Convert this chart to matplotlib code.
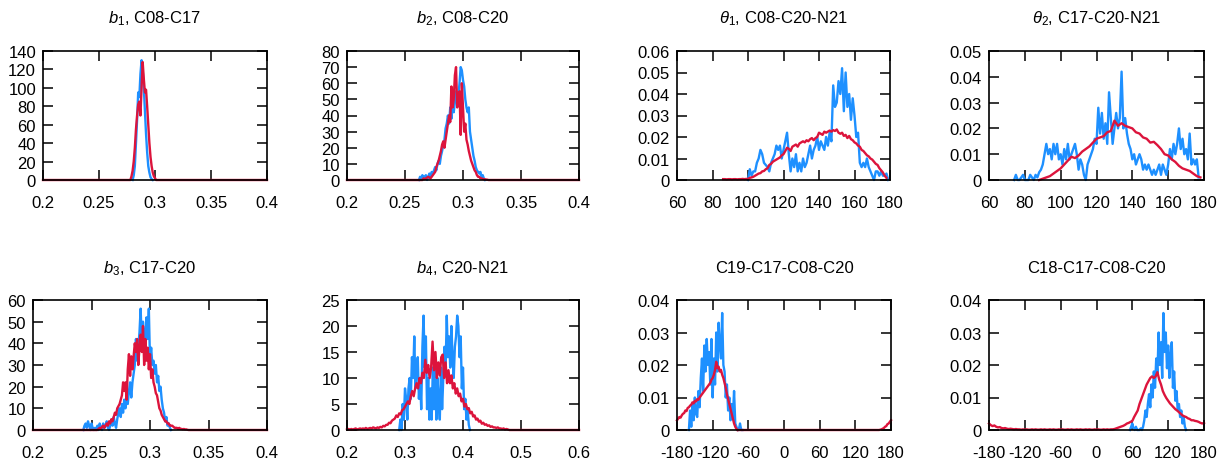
import numpy as np
import matplotlib
matplotlib.use("Agg")
import matplotlib.pyplot as plt

plt.rcParams['font.family'] = ['Liberation Sans', 'DejaVu Sans']
plt.rcParams['mathtext.fontset'] = 'custom'
plt.rcParams['mathtext.rm'] = 'Liberation Sans'
plt.rcParams['mathtext.it'] = 'Liberation Sans:italic'

BLUE = '#1e90ff'
RED = '#dc143c'

# ---------------- data ----------------
titles = [r'$b_1$, C08-C17', r'$b_2$, C08-C20', r'$\theta_1$, C08-C20-N21', r'$\theta_2$, C17-C20-N21',
          r'$b_3$, C17-C20', r'$b_4$, C20-N21', 'C19-C17-C08-C20', 'C18-C17-C08-C20']

xticks_bond = [0.2, 0.25, 0.3, 0.35, 0.4]
xticks_b4 = [0.2, 0.3, 0.4, 0.5, 0.6]
xticks_angle = [60, 80, 100, 120, 140, 160, 180]
xticks_dihedral = [-180, -120, -60, 0, 60, 120, 180]

yticks_b1 = [0, 20, 40, 60, 80, 100, 120, 140]
yticks_b2 = [0, 10, 20, 30, 40, 50, 60, 70, 80]
yticks_t1 = [0, 0.01, 0.02, 0.03, 0.04, 0.05, 0.06]
yticks_t2 = [0, 0.01, 0.02, 0.03, 0.04, 0.05]
yticks_b3 = [0, 10, 20, 30, 40, 50, 60]
yticks_b4 = [0, 5, 10, 15, 20, 25]
yticks_d = [0, 0.01, 0.02, 0.03, 0.04]

# b1 (bin width 0.001)
b1_blue_start, b1_blue = 0.280, [0, 5, 15, 40, 65, 95, 90, 115, 130, 120, 100, 75, 50, 30, 15, 8, 3, 1, 0]
b1_red_start, b1_red = 0.278, [0, 4, 10, 20, 35, 55, 70, 82, 85, 70, 100, 128, 110, 95, 98, 80, 60, 40,
                               25, 15, 8, 4, 2, 0]

# b2 (bin width 0.001)
b2_blue_start, b2_blue = 0.262, [0, 2, 1, 3, 1, 2, 3, 0, 2, 4, 2, 5, 4, 6, 8, 6, 10, 12, 10, 15, 18, 22,
                                 25, 32, 35, 40, 35, 45, 38, 50, 42, 48, 55, 48, 52, 60, 70, 68, 62, 58,
                                 50, 45, 42, 45, 30, 25, 20, 15, 12, 8, 6, 5, 4, 5, 2, 3, 1, 0]
b2_red_start, b2_red = 0.265, [0, 1, 0.5, 1, 1.5, 2, 1.5, 1, 2, 3, 4, 5, 8, 10, 12, 15, 18, 22, 24, 20,
                               25, 30, 35, 40, 36, 58, 45, 50, 65, 70, 45, 52, 55, 28, 60, 45, 30, 35,
                               25, 22, 18, 15, 12, 10, 8, 6, 5, 3, 2, 2, 1, 1, 0.7, 0.5, 0.4, 0.3, 0.2, 0]

# theta1 (bin width 1 degree)
t1_blue_start, t1_blue = 100, [0, 0.005, 0.002, 0.004, 0.004, 0.008, 0.010, 0.014, 0.012, 0.008, 0.007,
                               0.006, 0.004, 0.008, 0.010, 0.012, 0.016, 0.014, 0.016, 0.010, 0.014,
                               0.018, 0.022, 0.012, 0.004, 0.010, 0.006, 0.012, 0.004, 0.008, 0.004,
                               0.010, 0.006, 0.008, 0.012, 0.016, 0.010, 0.014, 0.016, 0.020, 0.014,
                               0.018, 0.016, 0.014, 0.020, 0.016, 0.022, 0.018, 0.044, 0.034, 0.036,
                               0.046, 0.040, 0.052, 0.032, 0.050, 0.034, 0.040, 0.028, 0.038, 0.030,
                               0.020, 0.022, 0.008, 0.006, 0.008, 0.006, 0.010, 0.006, 0.004, 0.002,
                               0.000, 0.004, 0.004, 0.002, 0.004, 0.002, 0.002, 0.003, 0.000]
t1_red_start, t1_red = 86, [0.0004, 0.0004, 0.0003, 0.0004, 0.0004, 0.0003, 0.0004, 0.0004, 0.0003,
                            0.0004, 0.0004, 0.0005, 0.0004, 0.0005,
                            0.0005, 0.001, 0.0012, 0.0015, 0.002, 0.0025, 0.003, 0.0032, 0.004, 0.0042,
                            0.005, 0.0055, 0.007, 0.0075, 0.0085, 0.009, 0.0095, 0.010, 0.0105, 0.0115,
                            0.012, 0.0135, 0.015, 0.0145, 0.0135, 0.0155, 0.016, 0.0165, 0.0155, 0.017,
                            0.0175, 0.018, 0.0175, 0.0185, 0.018, 0.019, 0.0195, 0.0185, 0.0195, 0.020,
                            0.022, 0.0215, 0.021, 0.0225, 0.022, 0.0225, 0.023, 0.0225, 0.0232, 0.0228,
                            0.0235, 0.022, 0.0215, 0.022, 0.0205, 0.021, 0.0195, 0.0205, 0.019, 0.0185,
                            0.0175, 0.017, 0.016, 0.0155, 0.014, 0.0135, 0.0125, 0.0115, 0.011, 0.010,
                            0.0095, 0.0085, 0.0075, 0.007, 0.0055, 0.0045, 0.0035, 0.002, 0.001]

# theta2 (blue: 1 degree bins, red: 2 degree bins)
t2_blue_start, t2_blue = 74, [0, 0.002, 0, 0, 0.001, 0.002, 0, 0, 0, 0.002, 0.001, 0, 0.002, 0.001,
                              0.003, 0.004, 0.006, 0.010, 0.014, 0.010, 0.012, 0.008, 0.014, 0.010,
                              0.014, 0.008, 0.010, 0.006, 0.012, 0.008, 0.014, 0.008, 0.010, 0.012,
                              0.014, 0.010, 0.004, 0.008, 0.006, 0.002, 0.000, 0.006, 0.008, 0.010,
                              0.012, 0.016, 0.014, 0.028, 0.018, 0.026, 0.016, 0.022, 0.014, 0.034,
                              0.024, 0.014, 0.020, 0.026, 0.020, 0.024, 0.042, 0.020, 0.024, 0.018,
                              0.014, 0.012, 0.008, 0.010, 0.006, 0.008, 0.010, 0.008, 0.004, 0.006,
                              0.004, 0.006, 0.004, 0.002, 0.004, 0.002, 0.004, 0.006, 0.002, 0.006,
                              0.004, 0.002, 0.006, 0.012, 0.008, 0.014, 0.010, 0.014, 0.020, 0.012,
                              0.016, 0.010, 0.012, 0.008, 0.018, 0.006, 0.008, 0.006, 0.008, 0.001]
t2_red_start, t2_red = 88, [0, 0.0005, 0.001, 0.0015, 0.0025, 0.0035, 0.0045, 0.006, 0.0075, 0.009,
                            0.0085, 0.0095, 0.011, 0.012, 0.013, 0.0145, 0.016, 0.0165, 0.017, 0.0185,
                            0.019, 0.023, 0.021, 0.022, 0.021, 0.0205, 0.020, 0.0185, 0.018, 0.0165,
                            0.016, 0.0145, 0.0148, 0.0135, 0.012, 0.010, 0.0095, 0.008, 0.007, 0.0055,
                            0.0045, 0.004, 0.0035, 0.0025, 0.0015, 0.001]

# b3 (bin width 0.001)
b3_blue_start, b3_blue = 0.243, [0, 2, 3, 1, 4, 2, 0, 3, 1, 0, 1, 0, 2, 0, 3, 1, 0, 3, 1, 2, 4, 1, 0, 2,
                                 4, 2, 6, 3, 1, 5, 8, 10, 6, 12, 8, 14, 10, 16, 12, 18, 22, 15, 22, 26,
                                 30, 42, 32, 38, 45, 56, 40, 50, 45, 36, 52, 42, 56, 32, 38, 30, 32, 26,
                                 30, 22, 25, 18, 20, 14, 10, 8, 4, 6, 2, 3, 1, 0]
b3_red_start, b3_red = 0.255, [0, 0.5, 1, 0.5, 1.5, 2, 1, 2, 3, 2, 4, 3, 5, 4, 6, 8, 7, 10, 11, 12, 14,
                               16, 22, 18, 22, 14, 28, 35, 25, 34, 28, 34, 40, 36, 42, 30, 38, 44, 36,
                               48, 30, 42, 32, 38, 28, 35, 24, 28, 22, 20, 17, 16, 13, 10, 9, 7, 6, 5,
                               4, 4, 3, 3, 2, 2, 2, 1.5, 1, 1, 1, 0.5, 1, 0.5, 0.5, 0.3, 0.5, 0.2, 0.3,
                               0.1, 0]

# b4 (blue: 0.002 bins, red: 0.0025 bins)
b4_blue_start, b4_blue = 0.290, [0, 2, 0, 5, 2, 8, 6, 2, 8, 10, 6, 14, 10, 18, 8, 12, 14, 6, 10, 4, 16,
                                 22, 12, 18, 4, 10, 2, 8, 2, 12, 4, 14, 2, 10, 6, 2, 12, 4, 10, 16, 12,
                                 22, 14, 18, 12, 20, 14, 10, 16, 18, 22, 20, 14, 18, 8, 12, 4, 6, 2, 4,
                                 1, 0]
b4_red_start, b4_red = 0.200, [0.1, 0.2, 0.1, 0.2, 0.1, 0.2, 0.3, 0.1, 0.2, 0.3, 0.2, 0.3, 0.2, 0.4,
                               0.2, 0.3, 0.4, 0.3, 0.5, 0.4,
                               0.3, 0.5, 0.4, 0.6, 0.5, 0.8, 0.7, 1.0, 1.0, 1.4, 1.3, 1.8, 2.0, 2.2,
                               2.8, 2.5, 3.2, 3.0, 3.8, 4.0,
                               4.5, 5.0, 5.5, 5.0, 6.5, 7.5, 6.5, 8.0, 9.0, 8.0, 10.0, 9.0, 11.0, 10.0,
                               13.5, 11.0, 12.5, 10.0, 12.0, 17.0, 11.5, 15.0, 10.0, 13.0, 10.5, 14.0,
                               14.5, 10.0, 13.0, 9.0, 11.5, 9.0, 10.5, 8.0, 9.0, 7.0, 8.0, 6.5, 7.0,
                               5.5, 6.0, 4.5, 5.0, 4.0, 4.2, 3.2, 3.5, 2.6, 2.8,
                               2.0, 2.2, 1.6, 1.8, 1.2, 1.4, 1.0, 1.1, 0.8, 0.9, 0.6, 0.7, 0.5, 0.5,
                               0.4, 0.5, 0.3, 0.3, 0.2, 0.3, 0.1, 0.2, 0.1, 0]

# C19-C17-C08-C20 (2 degree bins)
d1_blue_start, d1_blue = -160, [0, 0.006, 0.001, 0.008, 0.003, 0.010, 0.005, 0.004, 0.012, 0.007, 0.016,
                                0.022, 0.012, 0.026, 0.018, 0.028, 0.020, 0.024, 0.014, 0.028, 0.010,
                                0.022, 0.014, 0.030, 0.018, 0.033, 0.026, 0.022, 0.036, 0.020, 0.018,
                                0.010, 0.014, 0.006, 0.010, 0.003, 0.008, 0.004, 0.012, 0.002, 0.001,
                                0, 0, 0.002, 0, 0]
d1_red_left_start, d1_red_left = -180, [0.003, 0.0035, 0.004, 0.0038, 0.0045, 0.005, 0.0052, 0.006,
                                        0.0058, 0.0068, 0.007, 0.0075, 0.0078, 0.0085, 0.0082, 0.009,
                                        0.0088, 0.0095, 0.0093, 0.010, 0.0105, 0.011, 0.0115, 0.012,
                                        0.0125, 0.013, 0.0135, 0.014, 0.0145, 0.0155,
                                        0.016, 0.017, 0.0185, 0.021, 0.019, 0.0195, 0.018, 0.0185,
                                        0.017, 0.016, 0.0145, 0.013, 0.011, 0.0095, 0.008, 0.0065,
                                        0.005, 0.0035, 0.002, 0.001, 0.0003, 0]
d1_red_right_start, d1_red_right = 160, [0, 0.0001, 0.0002, 0.0004, 0.0006, 0.001, 0.0012, 0.0018,
                                         0.002, 0.0025, 0.003]

# C18-C17-C08-C20 (blue: 2 degree bins, red: 3 degree bins)
d2_blue_start, d2_blue = 56, [0, 0.001, 0.002, 0.0005, 0, 0.001, 0, 0, 0, 0.0005, 0, 0.001, 0.003,
                              0.006, 0.004, 0.008, 0.011, 0.007, 0.014, 0.010, 0.018, 0.013, 0.022,
                              0.017, 0.030, 0.020, 0.027, 0.016, 0.036, 0.024, 0.030, 0.019, 0.026,
                              0.016, 0.023, 0.027, 0.013, 0.018, 0.009, 0.012, 0.006, 0.008, 0.004,
                              0.006, 0.002, 0.004, 0.001, 0]
d2_red_start, d2_red = -180, [0.002, 0.0015, 0.0012, 0.0014, 0.001, 0.0008, 0.0009, 0.0006, 0.0005,
                              0.0006, 0.0004, 0.0003, 0.0004, 0.0003, 0.0002, 0.0003, 0.0002,
                              0.0002, 0.0001, 0.0002, 0.0001, 0.0002, 0.0001, 0.0001, 0.0002, 0.0001,
                              0.0002, 0.0001, 0.0001, 0.0002, 0.0001, 0.0002, 0.0001, 0.0001, 0.0002,
                              0.0001, 0.0002, 0.0001, 0.0001, 0.0002, 0.0001, 0.0002, 0.0001, 0.0001,
                              0.0002, 0.0001, 0.0002, 0.0001, 0.0001, 0.0002, 0.0001, 0.0002, 0.0001,
                              0.0001, 0.0002, 0.0001, 0.0002, 0.0001, 0.0001, 0.0002, 0.0001, 0.0002,
                              0.0001, 0.0001, 0.0002, 0.0001, 0.0002, 0.0001, 0.0002,
                              0.0002, 0.0003, 0.0005, 0.0007, 0.0009, 0.0011, 0.0013, 0.0016, 0.002,
                              0.0022, 0.0025, 0.0028, 0.004, 0.005, 0.006, 0.008, 0.0095, 0.011,
                              0.0125, 0.014, 0.015, 0.016, 0.0165, 0.016, 0.0165, 0.0178, 0.0155,
                              0.014, 0.012, 0.0108, 0.0098, 0.009, 0.0082, 0.0076, 0.007, 0.0064,
                              0.006, 0.0055, 0.005, 0.0045, 0.0042, 0.004, 0.0036, 0.0034, 0.003,
                              0.003, 0.0028, 0.0027, 0.0025, 0.0022, 0.002, 0.0022]


def series(start, step, values, lo=None, hi=None):
    """Histogram line; optionally extended with empty bins out to lo/hi."""
    x = start + step * np.arange(len(values))
    y = np.asarray(values, dtype=float)
    if lo is not None and x[0] > lo:
        x = np.r_[lo, x]
        y = np.r_[0.0, y]
    if hi is not None and x[-1] < hi:
        x = np.r_[x, hi]
        y = np.r_[y, 0.0]
    return x, y


panels = [
    dict(xlim=(0.2, 0.4), xt=xticks_bond, yt=yticks_b1,
         blue=[series(b1_blue_start, 0.001, b1_blue)],
         red=[series(b1_red_start, 0.001, b1_red, 0.2, 0.4)]),
    dict(xlim=(0.2, 0.4), xt=xticks_bond, yt=yticks_b2,
         blue=[series(b2_blue_start, 0.001, b2_blue)],
         red=[series(b2_red_start, 0.001, b2_red, 0.2, 0.4)]),
    dict(xlim=(60, 180), xt=xticks_angle, yt=yticks_t1,
         blue=[series(t1_blue_start, 1, t1_blue)],
         red=[series(t1_red_start, 1, t1_red)]),
    dict(xlim=(60, 180), xt=xticks_angle, yt=yticks_t2,
         blue=[series(t2_blue_start, 1, t2_blue)],
         red=[series(t2_red_start, 2, t2_red)]),
    dict(xlim=(0.2, 0.4), xt=xticks_bond, yt=yticks_b3,
         blue=[series(b3_blue_start, 0.001, b3_blue)],
         red=[series(b3_red_start, 0.001, b3_red, 0.2, 0.4)]),
    dict(xlim=(0.2, 0.6), xt=xticks_b4, yt=yticks_b4,
         blue=[series(b4_blue_start, 0.002, b4_blue)],
         red=[series(b4_red_start, 0.0025, b4_red, 0.2, 0.6)]),
    dict(xlim=(-180, 180), xt=xticks_dihedral, yt=yticks_d,
         blue=[series(d1_blue_start, 2, d1_blue)],
         red=[series(d1_red_left_start, 2, d1_red_left),
              series(d1_red_right_start, 2, d1_red_right, -78, None)]),
    dict(xlim=(-180, 180), xt=xticks_dihedral, yt=yticks_d,
         blue=[series(d2_blue_start, 2, d2_blue)],
         red=[series(d2_red_start, 3, d2_red)]),
]

# axes frames in pixels: left, top, right, bottom
frames = [(43, 52, 267, 181), (347, 52, 579, 181), (677, 52, 890, 181), (989, 52, 1204, 181),
          (33, 301, 267, 431), (347, 301, 579, 431), (677, 301, 891, 431), (989, 301, 1204, 431)]
title_base = [23, 23, 23, 23, 273, 273, 273, 273]

W, H = 1220, 464
fig = plt.figure(figsize=(W / 100, H / 100), dpi=100)

for p, (l, t, r, b), tb, title in zip(panels, frames, title_base, titles):
    ax = fig.add_axes([l / W, 1 - b / H, (r - l) / W, (b - t) / H])
    for x, y in p['blue']:
        ax.plot(x, y, color=BLUE, lw=1.7, clip_on=False, zorder=2.0)
    for x, y in p['red']:
        ax.plot(x, y, color=RED, lw=1.7, clip_on=False, zorder=2.1)
    ax.set_xlim(*p['xlim'])
    ax.set_ylim(p['yt'][0], p['yt'][-1])
    ax.set_xticks(p['xt'])
    ax.set_xticklabels([f'{v:g}' for v in p['xt']])
    ax.set_yticks(p['yt'])
    ax.set_yticklabels([f'{v:g}' for v in p['yt']])
    ax.tick_params(direction='in', top=True, right=True, length=7, width=1.1,
                   labelsize=12, colors='black')
    ax.tick_params(axis='x', pad=11)
    ax.tick_params(axis='y', pad=5)
    for s in ax.spines.values():
        s.set_linewidth(1.2)
        s.set_zorder(2.5)
    fig.text((l + r) / 2 / W, 1 - tb / H, title, ha='center', va='baseline', fontsize=12)

fig.savefig('out.png', dpi=100)
